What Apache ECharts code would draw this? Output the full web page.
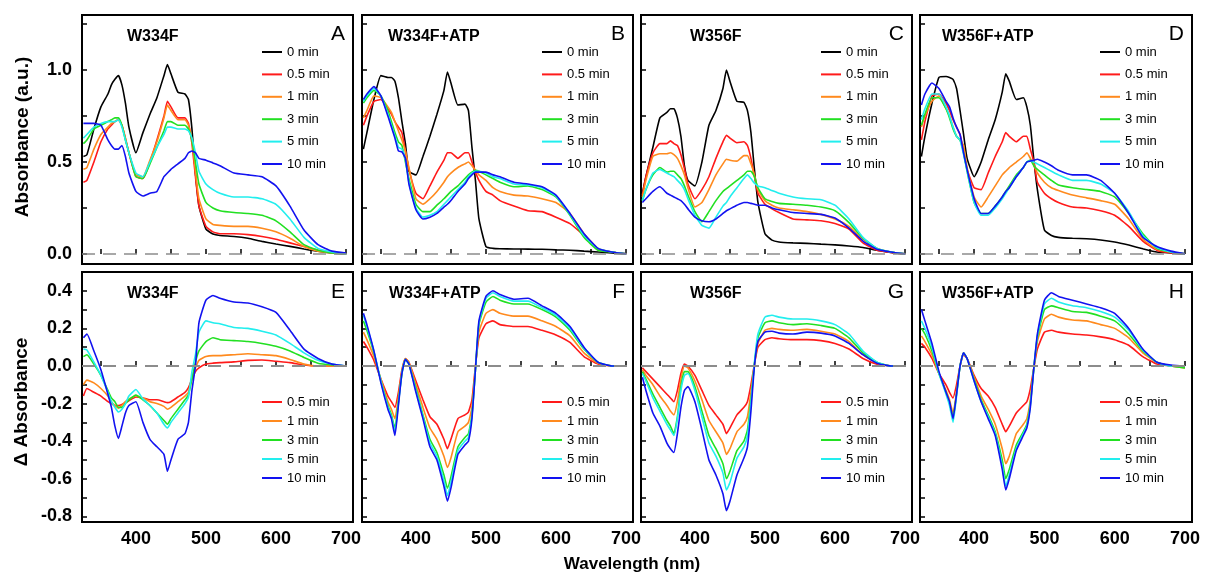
<!DOCTYPE html>
<html><head><meta charset="utf-8">
<script src="https://cdn.jsdelivr.net/npm/echarts@6/dist/echarts.min.js"></script>
<style>html,body{margin:0;padding:0;background:#fff}#c{width:1206px;height:581px}</style>
</head><body><div id="c"></div>
<script>
// ---------- data ----------
const wavelengths = [325,330,340,350,360,365,370,375,380,385,390,400,410,420,430,440,445,450,460,470,475,480,485,490,500,510,520,540,560,580,600,620,640,660,680,700];
const topNames = ['0 min','0.5 min','1 min','3 min','5 min','10 min'];
const diffNames = ['0.5 min','1 min','3 min','5 min','10 min'];
const xTicks = [350,400,450,500,550,600,650,700];
const xTickLabels = [400,500,600,700];
const yTicksAbs = [0,0.25,0.5,0.75,1.0,1.25];
const yLabelsAbs = [0,0.5,1.0];
const yTicksDiff = [-0.8,-0.7,-0.6,-0.5,-0.4,-0.3,-0.2,-0.1,0,0.1,0.2,0.3,0.4];
const yLabelsDiff = [-0.8,-0.6,-0.4,-0.2,0,0.2,0.4];

// A: W334F
const A_0  = [0.53,0.54,0.68,0.80,0.87,0.92,0.95,0.97,0.92,0.82,0.69,0.55, 0.66,0.76,0.85,0.97,1.03,0.98,0.88,0.87,0.84, 0.68,0.44,0.26,0.135,0.108,0.10,0.095,0.085,0.068,0.054,0.041,0.027,0.014,0.005,0];
const A_05 = [0.39,0.40,0.50,0.61,0.68,0.70,0.72,0.73,0.70,0.63,0.55,0.42, 0.41,0.50,0.62,0.75,0.83,0.80,0.74,0.74,0.71, 0.60,0.42,0.26,0.15,0.12,0.11,0.11,0.105,0.095,0.08,0.06,0.04,0.02,0.008,0];
const A_1  = [0.46,0.47,0.57,0.65,0.69,0.71,0.72,0.73,0.70,0.63,0.55,0.43, 0.42,0.51,0.61,0.74,0.81,0.78,0.73,0.73,0.70, 0.62,0.45,0.30,0.19,0.16,0.155,0.15,0.15,0.14,0.12,0.085,0.04,0.015,0.005,0];
const A_3  = [0.60,0.62,0.68,0.70,0.72,0.73,0.74,0.74,0.70,0.62,0.55,0.42, 0.41,0.49,0.58,0.67,0.72,0.72,0.70,0.70,0.68, 0.62,0.50,0.38,0.28,0.25,0.235,0.225,0.22,0.21,0.18,0.12,0.05,0.02,0.005,0];
const A_5  = [0.63,0.65,0.69,0.71,0.72,0.72,0.72,0.73,0.69,0.62,0.55,0.44, 0.42,0.50,0.58,0.65,0.69,0.69,0.68,0.68,0.67, 0.63,0.55,0.45,0.38,0.35,0.33,0.31,0.31,0.30,0.27,0.19,0.09,0.03,0.01,0];
const A_10 = [0.71,0.71,0.71,0.70,0.62,0.59,0.57,0.57,0.59,0.53,0.44,0.34, 0.315,0.33,0.34,0.42,0.44,0.46,0.49,0.52,0.55, 0.56,0.55,0.52,0.51,0.495,0.48,0.44,0.43,0.42,0.37,0.26,0.13,0.05,0.015,0.005];
// B: W334F+ATP
const B_0  = [0.57,0.66,0.84,0.97,0.96,0.96,0.94,0.85,0.72,0.60,0.45,0.43, 0.53,0.64,0.76,0.89,0.99,0.93,0.81,0.815,0.78, 0.58,0.40,0.19,0.04,0.03,0.028,0.027,0.026,0.025,0.022,0.02,0.015,0.01,0.005,0];
const B_05 = [0.70,0.75,0.83,0.84,0.79,0.76,0.72,0.69,0.66,0.56,0.46,0.33, 0.30,0.37,0.445,0.51,0.55,0.55,0.52,0.55,0.55, 0.50,0.445,0.40,0.34,0.32,0.29,0.26,0.235,0.23,0.20,0.165,0.10,0.025,0.01,0];
const B_1  = [0.74,0.78,0.86,0.85,0.80,0.77,0.72,0.67,0.62,0.56,0.47,0.30, 0.27,0.30,0.34,0.39,0.42,0.44,0.47,0.49,0.50, 0.48,0.455,0.43,0.40,0.36,0.34,0.32,0.315,0.30,0.28,0.22,0.11,0.03,0.01,0];
const B_3  = [0.82,0.85,0.89,0.86,0.78,0.72,0.66,0.61,0.59,0.50,0.41,0.27, 0.23,0.23,0.265,0.30,0.32,0.34,0.37,0.41,0.43, 0.445,0.455,0.45,0.43,0.41,0.39,0.365,0.37,0.35,0.31,0.21,0.09,0.02,0.01,0];
const B_5  = [0.83,0.86,0.90,0.86,0.76,0.70,0.64,0.58,0.57,0.51,0.39,0.25, 0.20,0.21,0.23,0.27,0.29,0.31,0.35,0.39,0.42, 0.44,0.45,0.45,0.44,0.42,0.41,0.38,0.375,0.36,0.315,0.215,0.10,0.03,0.01,0];
const B_10 = [0.84,0.87,0.91,0.86,0.75,0.69,0.63,0.56,0.555,0.52,0.38,0.24, 0.19,0.20,0.22,0.255,0.27,0.29,0.34,0.38,0.41, 0.43,0.445,0.445,0.445,0.43,0.42,0.39,0.38,0.365,0.32,0.22,0.11,0.03,0.01,0];
// C: W356F
const C_0  = [0.33,0.42,0.58,0.74,0.77,0.79,0.79,0.74,0.64,0.48,0.40,0.37, 0.50,0.70,0.78,0.90,1.00,0.94,0.83,0.825,0.78, 0.66,0.46,0.28,0.11,0.075,0.065,0.06,0.057,0.053,0.049,0.043,0.035,0.02,0.008,0];
const C_05 = [0.32,0.42,0.55,0.60,0.60,0.615,0.60,0.59,0.54,0.465,0.38,0.30, 0.35,0.42,0.52,0.61,0.645,0.63,0.605,0.61,0.59, 0.52,0.42,0.33,0.27,0.245,0.225,0.19,0.185,0.18,0.165,0.135,0.06,0.02,0.008,0];
const C_1  = [0.31,0.40,0.53,0.545,0.545,0.55,0.54,0.52,0.48,0.43,0.36,0.255, 0.28,0.35,0.43,0.49,0.515,0.51,0.505,0.535,0.535, 0.49,0.43,0.35,0.29,0.265,0.25,0.24,0.23,0.215,0.19,0.15,0.08,0.03,0.01,0];
const C_3  = [0.29,0.35,0.43,0.47,0.445,0.45,0.45,0.43,0.41,0.37,0.32,0.23, 0.175,0.23,0.29,0.34,0.355,0.37,0.40,0.43,0.45, 0.45,0.42,0.36,0.30,0.285,0.275,0.27,0.265,0.255,0.235,0.17,0.085,0.03,0.01,0];
const C_5  = [0.29,0.35,0.44,0.46,0.44,0.43,0.42,0.40,0.38,0.35,0.30,0.21, 0.155,0.14,0.20,0.26,0.28,0.31,0.36,0.41,0.43, 0.41,0.385,0.37,0.36,0.345,0.33,0.31,0.30,0.295,0.265,0.19,0.09,0.03,0.01,0];
const C_10 = [0.28,0.30,0.34,0.365,0.33,0.32,0.31,0.30,0.29,0.27,0.245,0.20, 0.18,0.175,0.19,0.22,0.235,0.245,0.265,0.28,0.28, 0.275,0.27,0.265,0.265,0.25,0.24,0.225,0.22,0.215,0.195,0.14,0.07,0.025,0.01,0];
// D: W356F+ATP
const D_0  = [0.53,0.64,0.82,0.96,0.965,0.96,0.95,0.90,0.78,0.65,0.52,0.42, 0.50,0.62,0.73,0.88,0.98,0.94,0.84,0.85,0.80, 0.70,0.51,0.35,0.13,0.10,0.09,0.085,0.082,0.076,0.065,0.048,0.028,0.01,0.005,0];
const D_05 = [0.62,0.72,0.86,0.87,0.82,0.78,0.73,0.69,0.65,0.56,0.46,0.36, 0.35,0.44,0.53,0.61,0.66,0.64,0.61,0.64,0.64, 0.57,0.50,0.39,0.33,0.30,0.28,0.255,0.25,0.235,0.21,0.15,0.07,0.02,0.005,0];
const D_1  = [0.69,0.75,0.83,0.86,0.79,0.75,0.69,0.64,0.62,0.59,0.47,0.31, 0.255,0.31,0.37,0.43,0.45,0.47,0.50,0.53,0.55, 0.52,0.485,0.44,0.39,0.36,0.345,0.32,0.305,0.29,0.27,0.19,0.08,0.025,0.01,0];
const D_3  = [0.70,0.76,0.85,0.85,0.79,0.74,0.68,0.64,0.62,0.55,0.45,0.28, 0.22,0.22,0.26,0.31,0.34,0.37,0.43,0.47,0.50, 0.51,0.48,0.46,0.43,0.40,0.375,0.36,0.35,0.34,0.31,0.22,0.11,0.03,0.01,0];
const D_5  = [0.73,0.79,0.87,0.87,0.80,0.75,0.69,0.64,0.62,0.54,0.45,0.28, 0.21,0.21,0.25,0.30,0.33,0.36,0.42,0.47,0.50, 0.505,0.50,0.49,0.47,0.45,0.43,0.40,0.40,0.38,0.33,0.23,0.10,0.035,0.01,0];
const D_10 = [0.81,0.87,0.93,0.90,0.83,0.80,0.74,0.69,0.65,0.55,0.46,0.30, 0.22,0.22,0.26,0.31,0.34,0.36,0.42,0.47,0.50, 0.505,0.51,0.515,0.50,0.48,0.455,0.43,0.43,0.40,0.33,0.22,0.09,0.04,0.015,0];
// E: W334F difference
const E_05 = [-0.16,-0.12,-0.14,-0.16,-0.19,-0.20,-0.21,-0.21,-0.205,-0.195,-0.185,-0.165, -0.17,-0.18,-0.18,-0.19,-0.195,-0.19,-0.165,-0.14,-0.115, -0.07,-0.03,-0.01,0.01,0.015,0.018,0.022,0.03,0.032,0.025,0.018,0.005,0,0,0];
const E_1  = [-0.10,-0.075,-0.09,-0.12,-0.16,-0.19,-0.21,-0.225,-0.21,-0.19,-0.175,-0.16, -0.17,-0.19,-0.20,-0.215,-0.23,-0.22,-0.19,-0.16,-0.14, -0.06,-0.01,0.03,0.05,0.055,0.055,0.06,0.065,0.06,0.055,0.035,0.01,0,0,0];
const E_3  = [0.05,0.06,0.01,-0.05,-0.13,-0.17,-0.19,-0.22,-0.22,-0.20,-0.18,-0.155, -0.18,-0.21,-0.25,-0.29,-0.31,-0.28,-0.23,-0.18,-0.155, -0.07,0.02,0.08,0.13,0.15,0.14,0.135,0.13,0.12,0.105,0.08,0.045,0.015,0.005,0];
const E_5  = [0.09,0.085,0.02,-0.05,-0.14,-0.19,-0.22,-0.245,-0.23,-0.20,-0.16,-0.125, -0.175,-0.21,-0.25,-0.31,-0.33,-0.30,-0.25,-0.20,-0.165, -0.03,0.06,0.18,0.24,0.23,0.225,0.205,0.20,0.185,0.165,0.12,0.07,0.03,0.01,0];
const E_10 = [0.15,0.17,0.08,-0.02,-0.15,-0.22,-0.32,-0.385,-0.32,-0.25,-0.21,-0.19, -0.30,-0.39,-0.43,-0.47,-0.56,-0.50,-0.39,-0.36,-0.30, -0.13,0.0,0.23,0.35,0.375,0.36,0.34,0.335,0.315,0.285,0.19,0.09,0.04,0.01,0];
// F: W334F+ATP difference
const F_05 = [0.13,0.10,0.03,-0.07,-0.16,-0.19,-0.22,-0.14,-0.02,0.04,0.02,-0.08, -0.18,-0.27,-0.31,-0.39,-0.44,-0.39,-0.28,-0.26,-0.245, -0.18,0.0,0.15,0.225,0.24,0.22,0.21,0.21,0.19,0.165,0.125,0.05,0.01,0,0];
const F_1  = [0.18,0.14,0.05,-0.07,-0.19,-0.23,-0.28,-0.17,-0.03,0.04,0.02,-0.10, -0.22,-0.33,-0.39,-0.48,-0.54,-0.49,-0.35,-0.32,-0.30, -0.22,-0.01,0.18,0.28,0.30,0.28,0.265,0.265,0.24,0.21,0.16,0.07,0.015,0,0];
const F_3  = [0.24,0.19,0.07,-0.08,-0.21,-0.26,-0.33,-0.19,-0.04,0.035,0.01,-0.12, -0.26,-0.39,-0.46,-0.58,-0.65,-0.59,-0.43,-0.38,-0.36, -0.26,-0.02,0.22,0.34,0.37,0.35,0.33,0.33,0.30,0.26,0.19,0.09,0.02,0,0];
const F_5  = [0.27,0.21,0.08,-0.08,-0.22,-0.27,-0.35,-0.20,-0.04,0.035,0.01,-0.13, -0.27,-0.41,-0.48,-0.61,-0.69,-0.62,-0.45,-0.40,-0.38, -0.27,-0.02,0.23,0.36,0.39,0.37,0.345,0.345,0.31,0.27,0.20,0.095,0.02,0,0];
const F_10 = [0.28,0.22,0.08,-0.09,-0.23,-0.28,-0.37,-0.21,-0.04,0.035,0.01,-0.14, -0.28,-0.43,-0.50,-0.64,-0.72,-0.65,-0.47,-0.42,-0.40, -0.28,-0.02,0.24,0.37,0.40,0.38,0.355,0.36,0.32,0.28,0.21,0.10,0.02,0,0];
// G: W356F difference
const G_05 = [-0.01,-0.03,-0.07,-0.11,-0.15,-0.17,-0.19,-0.13,-0.04,0.01,0.0,-0.05, -0.13,-0.21,-0.26,-0.31,-0.36,-0.33,-0.26,-0.22,-0.19, -0.10,0.01,0.10,0.14,0.15,0.145,0.14,0.14,0.135,0.12,0.09,0.04,0.01,0,0];
const G_1  = [-0.02,-0.05,-0.10,-0.16,-0.21,-0.24,-0.26,-0.19,-0.07,0.0,-0.01,-0.08, -0.18,-0.29,-0.35,-0.41,-0.47,-0.44,-0.35,-0.31,-0.27, -0.14,0.01,0.12,0.19,0.20,0.195,0.19,0.195,0.185,0.17,0.13,0.06,0.015,0,0];
const G_3  = [-0.03,-0.07,-0.15,-0.22,-0.29,-0.32,-0.36,-0.27,-0.11,-0.03,-0.03,-0.11, -0.24,-0.37,-0.44,-0.52,-0.60,-0.56,-0.45,-0.40,-0.34, -0.18,0.01,0.15,0.23,0.24,0.23,0.22,0.225,0.215,0.20,0.15,0.07,0.02,0,0];
const G_5  = [-0.04,-0.08,-0.17,-0.24,-0.31,-0.34,-0.37,-0.28,-0.13,-0.05,-0.04,-0.13, -0.27,-0.41,-0.48,-0.57,-0.66,-0.62,-0.49,-0.43,-0.37, -0.20,0.02,0.17,0.26,0.27,0.26,0.25,0.25,0.24,0.22,0.17,0.08,0.02,0,0];
const G_10 = [-0.06,-0.13,-0.25,-0.32,-0.41,-0.44,-0.46,-0.36,-0.22,-0.13,-0.11,-0.19, -0.34,-0.50,-0.58,-0.68,-0.77,-0.72,-0.58,-0.49,-0.43, -0.24,0.0,0.13,0.18,0.185,0.175,0.17,0.18,0.175,0.16,0.12,0.06,0.015,0,0];
// H: W356F+ATP difference
const H_05 = [0.12,0.10,0.04,-0.04,-0.10,-0.14,-0.17,-0.10,0.0,0.06,0.04,-0.05, -0.12,-0.16,-0.22,-0.31,-0.35,-0.32,-0.25,-0.21,-0.19, -0.12,-0.01,0.09,0.18,0.19,0.18,0.17,0.165,0.155,0.14,0.11,0.05,0.01,0,0];
const H_1  = [0.16,0.13,0.06,-0.04,-0.13,-0.18,-0.25,-0.14,0.0,0.07,0.04,-0.06, -0.16,-0.23,-0.31,-0.44,-0.52,-0.48,-0.36,-0.31,-0.28, -0.18,-0.01,0.13,0.25,0.275,0.26,0.245,0.24,0.22,0.20,0.15,0.07,0.02,0,-0.01];
const H_3  = [0.20,0.17,0.08,-0.04,-0.14,-0.20,-0.27,-0.15,0.0,0.07,0.04,-0.07, -0.18,-0.26,-0.35,-0.50,-0.60,-0.55,-0.42,-0.35,-0.31, -0.20,-0.01,0.15,0.30,0.32,0.31,0.29,0.285,0.265,0.24,0.17,0.08,0.02,0,-0.01];
const H_5  = [0.24,0.20,0.10,-0.04,-0.15,-0.21,-0.30,-0.16,0.0,0.07,0.04,-0.08, -0.19,-0.27,-0.36,-0.53,-0.64,-0.58,-0.44,-0.36,-0.32, -0.21,-0.01,0.16,0.33,0.36,0.34,0.32,0.31,0.29,0.26,0.19,0.085,0.02,0,0];
const H_10 = [0.30,0.24,0.12,-0.03,-0.14,-0.19,-0.28,-0.15,0.0,0.07,0.04,-0.08, -0.19,-0.28,-0.37,-0.55,-0.66,-0.60,-0.45,-0.37,-0.33, -0.22,-0.01,0.17,0.35,0.39,0.37,0.35,0.33,0.31,0.28,0.20,0.09,0.02,0.005,0];

// ---------- layout / style ----------
const FONT = '"Liberation Sans", Arial, Helvetica, sans-serif';
const lineColors = ['#000000','#ff1a1a','#ff8a1e','#22e022','#22eeee','#1212f0'];
const colLeft = [82, 362, 641, 920];
const colWidth = [271, 271, 271, 272];
const rowTop = [15, 272];
const rowHeight = [249, 250];

const panels = [
  {letter:'A', title:'W334F',     row:0, col:0, tdx:45, data:[A_0,A_05,A_1,A_3,A_5,A_10]},
  {letter:'B', title:'W334F+ATP', row:0, col:1, tdx:26, data:[B_0,B_05,B_1,B_3,B_5,B_10]},
  {letter:'C', title:'W356F',     row:0, col:2, tdx:49, data:[C_0,C_05,C_1,C_3,C_5,C_10]},
  {letter:'D', title:'W356F+ATP', row:0, col:3, tdx:22, data:[D_0,D_05,D_1,D_3,D_5,D_10]},
  {letter:'E', title:'W334F',     row:1, col:0, tdx:45, data:[E_05,E_1,E_3,E_5,E_10]},
  {letter:'F', title:'W334F+ATP', row:1, col:1, tdx:27, data:[F_05,F_1,F_3,F_5,F_10]},
  {letter:'G', title:'W356F',     row:1, col:2, tdx:49, data:[G_05,G_1,G_3,G_5,G_10]},
  {letter:'H', title:'W356F+ATP', row:1, col:3, tdx:22, data:[H_05,H_1,H_3,H_5,H_10]}
];

const grid = [], xAxis = [], yAxis = [], series = [], legend = [], graphic = [];
panels.forEach((p, i) => {
  const left = colLeft[p.col], top = rowTop[p.row], w = colWidth[p.col], h = rowHeight[p.row];
  const isDiff = p.row === 1;
  grid.push({left, top, width: w, height: h, show: true, borderColor: '#000', borderWidth: 2, backgroundColor: 'rgba(0,0,0,0)'});
  xAxis.push({
    type: 'value', gridIndex: i, min: 323, max: 710,
    axisLine: {show: false}, splitLine: {show: false},
    axisTick: {show: true, inside: true, length: 5, lineStyle: {color: '#000', width: 1.5}, customValues: xTicks},
    axisLabel: {show: isDiff, customValues: xTickLabels, color: '#000', fontWeight: 'bold', fontSize: 18, fontFamily: FONT, margin: 8}
  });
  yAxis.push({
    type: 'value', gridIndex: i,
    min: isDiff ? -0.83 : -0.055, max: isDiff ? 0.5 : 1.3,
    axisLine: {show: false}, splitLine: {show: false},
    axisTick: {show: true, inside: true, length: 5, lineStyle: {color: '#000', width: 1.5}, customValues: isDiff ? yTicksDiff : yTicksAbs},
    axisLabel: {show: p.col === 0, customValues: isDiff ? yLabelsDiff : yLabelsAbs,
      formatter: v => Number(v).toFixed(1), color: '#000', fontWeight: 'bold', fontSize: 18, fontFamily: FONT, margin: 10}
  });
  const names = isDiff ? diffNames : topNames;
  const cols = isDiff ? lineColors.slice(1) : lineColors;
  p.data.forEach((arr, k) => {
    const s = {
      type: 'line', name: names[k], xAxisIndex: i, yAxisIndex: i,
      data: wavelengths.map((wl, j) => [wl, arr[j]]),
      showSymbol: false, symbol: 'none', smooth: 0.15, silent: true, animation: false,
      lineStyle: {color: cols[k], width: 1.6}, itemStyle: {color: cols[k]}
    };
    if (k === p.data.length - 1) {
      s.markLine = {
        silent: true, symbol: ['none', 'none'], label: {show: false}, animation: false,
        lineStyle: {color: '#8c8c8c', type: [13, 8], width: isDiff ? 2.2 : 1.6},
        data: [{yAxis: 0}]
      };
    }
    series.push(s);
  });
  legend.push({
    show: true, orient: 'vertical', left: left + 180, top: isDiff ? 395 : 45,
    itemWidth: 20, itemHeight: 2, itemGap: isDiff ? 5 : 8.4, icon: 'rect', selectedMode: false, padding: 0,
    data: names, textStyle: {fontSize: 13, fontFamily: FONT, color: '#000', lineHeight: 14}
  });
  graphic.push({type: 'text', x: left + p.tdx, y: top + 22,
    style: {text: p.title, font: 'bold 16px ' + FONT, fill: '#000', textAlign: 'left', textVerticalAlign: 'middle', align: 'left', verticalAlign: 'middle'}});
  graphic.push({type: 'text', x: left + w - 8, y: top + (isDiff ? 20 : 19),
    style: {text: p.letter, font: '21px ' + FONT, fill: '#000', textAlign: 'right', textVerticalAlign: 'middle', align: 'right', verticalAlign: 'middle'}});
});

graphic.push({type: 'text', x: 23, y: 137, rotation: Math.PI / 2,
  style: {text: 'Absorbance (a.u.)', font: 'bold 19px ' + FONT, fill: '#000', textAlign: 'center', textVerticalAlign: 'middle', align: 'center', verticalAlign: 'middle'}});
graphic.push({type: 'text', x: 22, y: 402, rotation: Math.PI / 2,
  style: {text: 'Δ Absorbance', font: 'bold 19px ' + FONT, fill: '#000', textAlign: 'center', textVerticalAlign: 'middle', align: 'center', verticalAlign: 'middle'}});
graphic.push({type: 'text', x: 632, y: 564,
  style: {text: 'Wavelength (nm)', font: 'bold 17px ' + FONT, fill: '#000', textAlign: 'center', textVerticalAlign: 'middle', align: 'center', verticalAlign: 'middle'}});

const chart = echarts.init(document.getElementById('c'), null, {renderer: 'canvas'});
chart.setOption({animation: false, backgroundColor: '#fff', grid, xAxis, yAxis, series, legend, graphic});
</script>
</body></html>
